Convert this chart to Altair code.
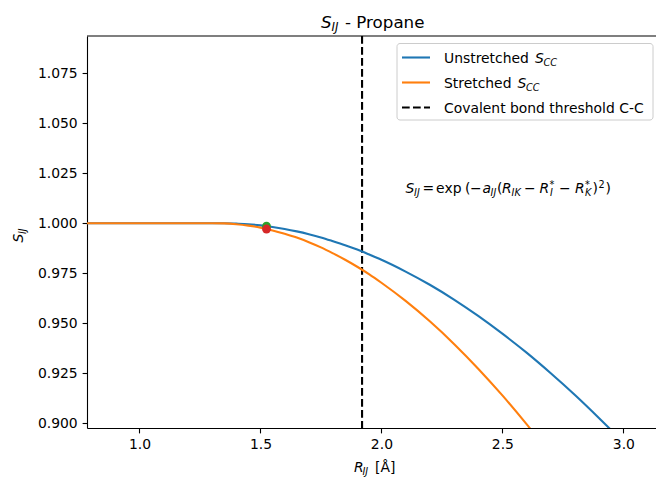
import altair as alt
import pandas as pd

# Overlap function S_IJ against interatomic distance R_IJ for propane (C-C pair)
r_grid = [0.78, 1.00, 1.20, 1.30, 1.35, 1.40, 1.45, 1.50, 1.55, 1.60, 1.65, 1.70,
          1.75, 1.80, 1.85, 1.90, 1.95, 2.00, 2.10, 2.20, 2.30, 2.40, 2.50, 2.60,
          2.70, 2.80, 2.90, 3.00, 3.10, 3.20]
s_unstretched = [1.0, 1.0, 1.0, 1.0, 1.0000, 0.9998, 0.9995, 0.9989, 0.9981, 0.9971,
                 0.9959, 0.9945, 0.9929, 0.9910, 0.9890, 0.9868, 0.9843, 0.9817,
                 0.9758, 0.9692, 0.9618, 0.9536, 0.9447, 0.9352, 0.9249, 0.9140,
                 0.9024, 0.8903, 0.8775, 0.8643]
s_stretched = [1.0, 1.0, 1.0, 1.0, 0.9999, 0.9995, 0.9988, 0.9978, 0.9964, 0.9947,
               0.9928, 0.9905, 0.9879, 0.9849, 0.9817, 0.9782, 0.9744, 0.9702,
               0.9611, 0.9509, 0.9396, 0.9272, 0.9138, 0.8994, 0.8842, 0.8680]

bond_length = 1.525
bond_s_unstretched = 0.9985
bond_s_stretched = 0.9971
cc_threshold = 1.92

x_ticks = [1.0, 1.5, 2.0, 2.5, 3.0]
y_ticks = [0.900, 0.925, 0.950, 0.975, 1.000, 1.025, 1.050, 1.075]

BLUE, ORANGE, GREEN, RED = "#1f77b4", "#ff7f0e", "#2ca02c", "#d62728"
FONT = "DejaVu Sans"
FS, SUB = 13.9, 9.7
OX, OY = 87, 36          # plot-area origin inside the canvas
W, H = 569, 392

unstretched = pd.DataFrame({"r": r_grid, "s": s_unstretched})
stretched = pd.DataFrame({"r": r_grid[:len(s_stretched)], "s": s_stretched})
bond_u = pd.DataFrame({"r": [bond_length], "s": [bond_s_unstretched]})
bond_s = pd.DataFrame({"r": [bond_length], "s": [bond_s_stretched]})
threshold = pd.DataFrame({"r": [cc_threshold]})
formula_at = pd.DataFrame({"r": [2.1], "s": [1.015]})
one = pd.DataFrame({"k": [0]})

xs = alt.Scale(domain=[0.783, 3.135], nice=False, zero=False)
ys = alt.Scale(domain=[0.8975, 1.0937], nice=False, zero=False)
X = alt.X("r:Q", scale=xs, title=None,
          axis=alt.Axis(values=x_ticks, format=".1f", title=None))
Y = alt.Y("s:Q", scale=ys, title=None,
          axis=alt.Axis(values=y_ticks, format=".3f", title=None))


def curve(df, color):
    return alt.Chart(df).mark_line(color=color, strokeWidth=2.1, clip=True,
                                   interpolate="monotone").encode(x=X, y=Y)


def dot(df, color):
    return alt.Chart(df).mark_point(filled=True, color=color, size=78, opacity=1,
                                    shape="circle").encode(x=X, y=Y)


def label(px, py, text, size=FS, italic=False, angle=0):
    return alt.Chart(one).mark_text(
        text=text, font=FONT, fontSize=size, color="black", align="left",
        baseline="alphabetic", angle=angle,
        fontStyle="italic" if italic else "normal",
    ).encode(x=alt.value(px - OX), y=alt.value(py - OY))


def formula_piece(dx, text, size=FS, italic=False, shift=0):
    return alt.Chart(formula_at).mark_text(
        text=text, font=FONT, fontSize=size, color="black", align="left",
        baseline="alphabetic", dx=dx, dy=shift,
        fontStyle="italic" if italic else "normal",
    ).encode(x=X, y=Y)


layers = []

# vertical threshold line
layers.append(alt.Chart(threshold).mark_rule(color="black", strokeWidth=2.1,
                                             strokeDash=[7.7, 3.3]).encode(x=X))
layers.append(curve(unstretched, BLUE))
layers.append(curve(stretched, ORANGE))
layers.append(dot(bond_u, GREEN))
layers.append(dot(bond_s, RED))

# top spine
layers.append(alt.Chart(one).mark_rule(color="black", strokeWidth=1.1).encode(
    x=alt.value(0), x2=alt.value(W), y=alt.value(0)))

# formula: S_IJ = exp(-a_IJ(R_IK - R*_I - R*_K)^2)
pieces = [
    (0, "S", FS, True, 0), (8.5, "IJ", SUB, True, 3),
    (17, "=", FS, False, 0), (30.5, "exp", FS, False, 0),
    (59.5, "(", FS, False, 0), (64.5, "\u2212", FS, False, 0),
    (77, "a", FS, True, 0), (85, "IJ", SUB, True, 3),
    (91.5, "(", FS, False, 0), (96.5, "R", FS, True, 0), (106, "IK", SUB, True, 3),
    (118.5, "\u2212", FS, False, 0), (134, "R", FS, True, 0),
    (144, "*", SUB, False, -5), (144.5, "I", SUB, True, 3),
    (153.5, "\u2212", FS, False, 0), (169.5, "R", FS, True, 0),
    (179.5, "*", SUB, False, -5), (179.5, "K", SUB, True, 3),
    (187, ")", FS, False, 0), (193, "2", SUB, False, -5),
    (200, ")", FS, False, 0),
]
for dx, t, size, it, sh in pieces:
    layers.append(formula_piece(dx, t, size, it, sh))

# legend box and entries
layers.append(alt.Chart(one).mark_rect(fill="white", fillOpacity=0.8, stroke="#cccccc",
                                       strokeWidth=1, cornerRadius=3).encode(
    x=alt.value(397 - OX), x2=alt.value(653 - OX),
    y=alt.value(43.5 - OY), y2=alt.value(120 - OY)))
for ly, color, dash in [(57.5, BLUE, None), (82.5, ORANGE, None), (107.5, "black", [7.7, 3.3])]:
    kw = dict(color=color, strokeWidth=2.1)
    if dash:
        kw["strokeDash"] = dash
    layers.append(alt.Chart(one).mark_rule(**kw).encode(
        x=alt.value(402 - OX), x2=alt.value(430 - OX), y=alt.value(ly - OY)))
layers += [
    label(444, 62.5, "Unstretched"), label(535, 62.5, "S", italic=True),
    label(543.5, 65.5, "CC", SUB, italic=True),
    label(444, 87.5, "Stretched"), label(517.5, 87.5, "S", italic=True),
    label(526, 90.5, "CC", SUB, italic=True),
    label(444, 112.5, "Covalent bond threshold C-C"),
]

# title
layers += [
    label(321, 27.5, "S", 16.7, italic=True),
    label(331.5, 31, "IJ", 11.7, italic=True),
    label(345, 27.5, "- Propane", 16.7),
]
# axis titles
layers += [
    label(354, 471.5, "R", italic=True), label(362.5, 474.5, "IJ", SUB, italic=True),
    label(375, 471.5, "[\u00c5]"),
    label(22.5, 242.5, "S", italic=True, angle=270),
    label(25.5, 234, "IJ", SUB, italic=True, angle=270),
]

chart = alt.layer(*layers).properties(
    width=W, height=H,
    padding={"left": OX, "top": OY, "right": 0, "bottom": 478 - OY - H},
    autosize=alt.AutoSizeParams(type="none"),
    background="white",
).configure_view(stroke=None).configure_axis(
    grid=False, domainColor="black", domainWidth=1.1, tickColor="black",
    tickWidth=1.1, tickSize=4.9, labelColor="black", labelFont=FONT,
    labelFontSize=FS, labelPadding=4.9,
)

chart.save("out.html", embed_options={"renderer": "svg", "actions": False})
